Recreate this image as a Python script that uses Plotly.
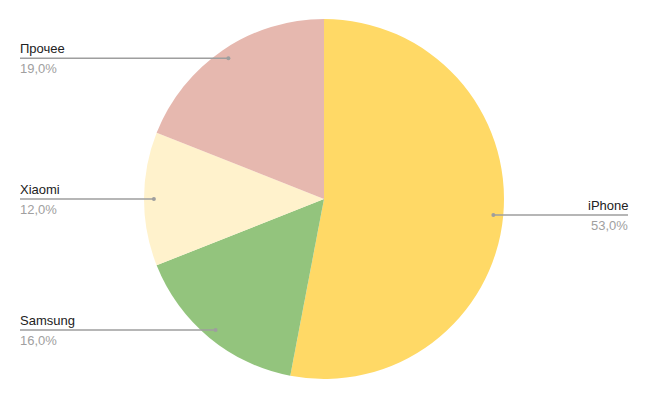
import math
import plotly.graph_objects as go

categories = ["iPhone", "Samsung", "Xiaomi", "Прочее"]
shares = [53.0, 16.0, 12.0, 19.0]
colors = ["#FFD966", "#93C47D", "#FFF2CC", "#E6B8AF"]

# page body has an 8px default margin: size the figure to the visible area
OFF = 8
W, H = 648 - OFF, 400 - OFF
cx, cy, R = 324 - OFF, 199 - OFF, 180
left_x, right_x = 20 - OFF, 628 - OFF

fig = go.Figure(go.Pie(
    labels=categories, values=shares, sort=False, direction="clockwise", rotation=0,
    marker=dict(colors=colors, line=dict(width=0)), textinfo="none",
    domain=dict(x=[(cx - R) / W, (cx + R) / W], y=[(H - cy - R) / H, (H - cy + R) / H]),
    showlegend=False, hovertemplate="%{label}: %{value:.1f}%<extra></extra>",
))

shapes, annotations = [], []
total = sum(shares)
cum = 0.0
for name, v in zip(categories, shares):
    mid = (cum + v / 2) / total * 2 * math.pi
    cum += v
    ax = cx + 0.945 * R * math.sin(mid)
    ay = cy - 0.945 * R * math.cos(mid)
    right = math.sin(mid) > 0
    ex = right_x if right else left_x
    shapes.append(dict(type="line", xref="paper", yref="paper",
                       x0=ax / W, x1=ex / W, y0=1 - ay / H, y1=1 - ay / H,
                       line=dict(color="#9E9E9E", width=1.5)))
    shapes.append(dict(type="circle", xref="paper", yref="paper",
                       x0=(ax - 2) / W, x1=(ax + 2) / W, y0=1 - (ay + 2) / H, y1=1 - (ay - 2) / H,
                       fillcolor="#9E9E9E", line=dict(width=0)))
    anchor = "right" if right else "left"
    shift = 2 if right else -2
    annotations.append(dict(xref="paper", yref="paper", x=ex / W, y=1 - (ay - 0.5) / H,
                            text=name, showarrow=False, xanchor=anchor, yanchor="bottom",
                            xshift=shift,
                            font=dict(family="Arial, Liberation Sans, sans-serif", size=13, color="#222222")))
    annotations.append(dict(xref="paper", yref="paper", x=ex / W, y=1 - (ay + 0.5) / H,
                            text=f"{v:.1f}%".replace(".", ","), showarrow=False,
                            xanchor=anchor, yanchor="top",
                            xshift=shift,
                            font=dict(family="Arial, Liberation Sans, sans-serif", size=13, color="#A0A0A0")))

fig.update_layout(width=W, height=H, margin=dict(l=0, r=0, t=0, b=0),
                  paper_bgcolor="white", plot_bgcolor="white",
                  shapes=shapes, annotations=annotations)
fig.write_html("out.html")
